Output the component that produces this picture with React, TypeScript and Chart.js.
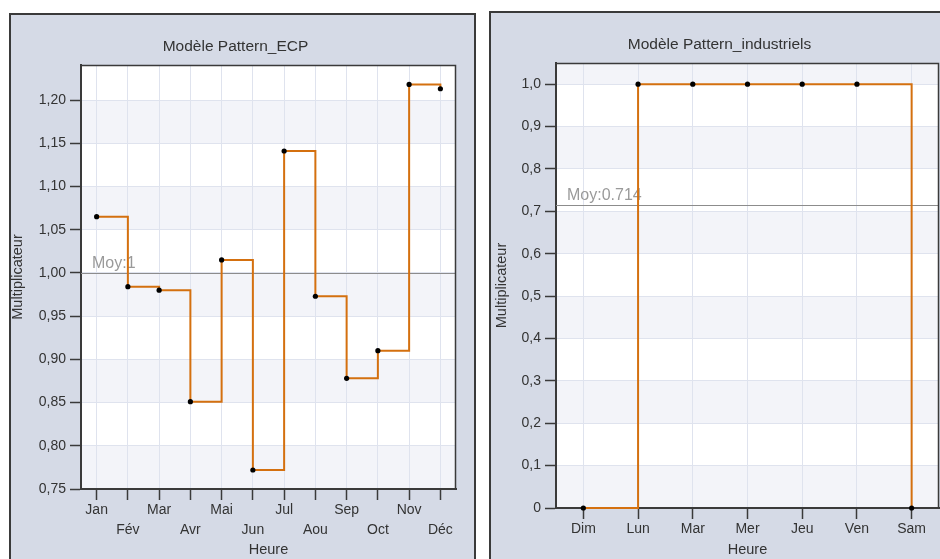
import React, { useEffect, useRef } from 'react';
import { Chart, registerables } from 'chart.js';

Chart.register(...registerables);

// ---------- data ----------
const months = ['Jan', 'Fév', 'Mar', 'Avr', 'Mai', 'Jun', 'Jul', 'Aou', 'Sep', 'Oct', 'Nov', 'Déc'];
const ecpValues = [1.065, 0.984, 0.98, 0.851, 1.015, 0.772, 1.141, 0.973, 0.878, 0.91, 1.218, 1.213];

const days = ['Dim', 'Lun', 'Mar', 'Mer', 'Jeu', 'Ven', 'Sam'];
const industrielsValues = [0, 1, 1, 1, 1, 1, 0];

const ecpTitle = 'Modèle Pattern_ECP';
const industrielsTitle = 'Modèle Pattern_industriels';
const yAxisTitle = 'Multiplicateur';
const xAxisTitle = 'Heure';
const avgPrefix = 'Moy:';

const ecpRange = { min: 0.75, max: 1.2405, step: 0.05, decimals: 2 };
const industrielsRange = { min: 0, max: 1.05, step: 0.1, decimals: 1 };

// ---------- styles ----------
const FONT = '"Liberation Sans", Arial, sans-serif';
const TEXT = '#333333';
const AXIS = '#3a3a3a';
const GRID = '#dfe3ee';
const BAND = '#f3f4f9';
const PANEL_BG = '#d5dae6';
const LINE = '#d4700f';

const bandsPlugin = {
  id: 'bands',
  beforeDraw(chart: any) {
    const { ctx, chartArea: a, scales } = chart;
    const y = scales.y;
    ctx.save();
    ctx.fillStyle = '#ffffff';
    ctx.fillRect(a.left, a.top, a.width, a.height);
    const edges = y.ticks.map((t: any) => t.value).concat([y.max]);
    ctx.fillStyle = BAND;
    for (let i = 0; i < edges.length - 1; i += 2) {
      const y0 = y.getPixelForValue(edges[i]);
      const y1 = y.getPixelForValue(edges[i + 1]);
      ctx.fillRect(a.left, y1, a.width, y0 - y1);
    }
    ctx.restore();
  },
};

const avgPlugin = {
  id: 'avgLine',
  beforeDatasetsDraw(chart: any) {
    const values = chart.data.datasets[0].data as number[];
    const avg = values.reduce((s, v) => s + v, 0) / values.length;
    const { ctx, chartArea: a, scales } = chart;
    const py = Math.round(scales.y.getPixelForValue(avg)) + 0.5;
    ctx.save();
    ctx.strokeStyle = '#8c8c8c';
    ctx.lineWidth = 1;
    ctx.beginPath();
    ctx.moveTo(a.left, py);
    ctx.lineTo(a.right, py);
    ctx.stroke();
    ctx.fillStyle = '#9a9a9a';
    ctx.font = `16px ${FONT}`;
    ctx.textAlign = 'left';
    ctx.textBaseline = 'alphabetic';
    ctx.fillText(avgPrefix + String(Number(avg.toFixed(3))), a.left + 11, py - 6);
    ctx.restore();
  },
};

const framePlugin = {
  id: 'frame',
  afterDraw(chart: any) {
    const { ctx, chartArea: a } = chart;
    ctx.save();
    ctx.strokeStyle = AXIS;
    ctx.lineWidth = 1.5;
    ctx.beginPath();
    ctx.moveTo(a.left, a.top + 0.5);
    ctx.lineTo(a.right - 0.5, a.top + 0.5);
    ctx.lineTo(a.right - 0.5, a.bottom);
    ctx.stroke();
    ctx.restore();
  },
};

type PanelProps = {
  labels: string[];
  values: number[];
  title: string;
  range: { min: number; max: number; step: number; decimals: number };
  twoRows: boolean;
  left: number;
  top: number;
  panelW: number;
  panelH: number;
  canvasW: number;
  canvasH: number;
  yAxisW: number;
  rightW: number;
  xAxisH: number;
  titlePadTop: number;
  titlePadBottom: number;
  yTitlePad: number;
  xTitlePadBottom: number;
};

function Panel(p: PanelProps) {
  const ref = useRef<HTMLCanvasElement | null>(null);

  useEffect(() => {
    if (!ref.current) return;
    const fmt = (v: number) =>
      v === 0 ? '0' : v.toFixed(p.range.decimals).replace('.', ',');
    const chart = new Chart(ref.current, {
      type: 'line',
      data: {
        labels: p.labels,
        datasets: [
          {
            data: p.values,
            stepped: 'before',
            borderColor: LINE,
            borderWidth: 2,
            pointRadius: 2.6,
            pointBorderWidth: 0,
            pointBackgroundColor: '#000000',
            pointBorderColor: '#000000',
            fill: false,
            clip: false as any,
          },
        ],
      },
      options: {
        animation: false,
        responsive: false,
        events: [],
        layout: { padding: 0 },
        plugins: {
          legend: { display: false },
          tooltip: { enabled: false },
          title: {
            display: true,
            text: p.title,
            color: TEXT,
            font: { family: FONT, size: 15.5, weight: 'normal', lineHeight: 1.2 },
            padding: { top: p.titlePadTop, bottom: p.titlePadBottom },
          },
        },
        scales: {
          x: {
            type: 'category',
            offset: true,
            grid: {
              offset: false,
              color: GRID,
              lineWidth: 1,
              drawTicks: true,
              tickLength: 11,
              tickColor: AXIS,
              tickWidth: 1.5,
            },
            border: { display: true, color: AXIS, width: 2 },
            ticks: {
              autoSkip: false,
              maxRotation: 0,
              minRotation: 0,
              padding: 0,
              color: TEXT,
              font: { family: FONT, size: 14, lineHeight: 20 / 14 },
              callback: (val: any, idx: number) => {
                const lab = p.labels[idx];
                return p.twoRows && idx % 2 === 1 ? ['', lab] : lab;
              },
            },
            title: {
              display: true,
              text: xAxisTitle,
              color: TEXT,
              font: { family: FONT, size: 14.5, lineHeight: 1.2 },
              padding: { top: 0, bottom: p.xTitlePadBottom },
            },
            afterFit: (s: any) => {
              s.height = p.xAxisH;
            },
          },
          y: {
            type: 'linear',
            position: 'left',
            min: p.range.min,
            max: p.range.max,
            grid: {
              color: GRID,
              lineWidth: 1,
              drawTicks: true,
              tickLength: 11,
              tickColor: AXIS,
              tickWidth: 1.5,
            },
            border: { display: true, color: AXIS, width: 2 },
            ticks: {
              stepSize: p.range.step,
              includeBounds: false,
              padding: 4,
              color: TEXT,
              font: { family: FONT, size: 14 },
              callback: (v: any) => fmt(Number(v)),
            },
            title: {
              display: true,
              text: yAxisTitle,
              color: TEXT,
              font: { family: FONT, size: 14.5, lineHeight: 1 },
              padding: { top: p.yTitlePad, bottom: 0 },
            },
            afterFit: (s: any) => {
              s.width = p.yAxisW;
            },
          },
          yR: {
            type: 'linear',
            position: 'right',
            display: true,
            grid: { display: false, drawTicks: false },
            border: { display: false },
            ticks: { display: false },
            title: { display: false },
            afterFit: (s: any) => {
              s.width = p.rightW;
            },
          },
        },
      } as any,
      plugins: [bandsPlugin, avgPlugin, framePlugin],
    });
    return () => chart.destroy();
  }, []);

  return (
    <div
      style={{
        position: 'absolute',
        left: p.left,
        top: p.top,
        width: p.panelW,
        height: p.panelH,
        boxSizing: 'border-box',
        border: `2px solid ${AXIS}`,
        background: PANEL_BG,
        overflow: 'hidden',
      }}
    >
      <canvas
        ref={ref}
        width={p.canvasW}
        height={p.canvasH}
        style={{ display: 'block', width: p.canvasW, height: p.canvasH }}
      />
    </div>
  );
}

export default function App() {
  return (
    <div
      style={{
        position: 'fixed',
        left: 0,
        top: 0,
        width: 940,
        height: 559,
        overflow: 'hidden',
        background: '#ffffff',
      }}
    >
      <Panel
        labels={months}
        values={ecpValues}
        title={ecpTitle}
        range={ecpRange}
        twoRows={true}
        left={9}
        top={13}
        panelW={467}
        panelH={570}
        canvasW={449}
        canvasH={556}
        yAxisW={70}
        rightW={4}
        xAxisH={82}
        titlePadTop={22.4}
        titlePadBottom={9}
        yTitlePad={0}
        xTitlePadBottom={11.9}
      />
      <Panel
        labels={days}
        values={industrielsValues}
        title={industrielsTitle}
        range={industrielsRange}
        twoRows={false}
        left={489}
        top={11}
        panelW={480}
        panelH={570}
        canvasW={457}
        canvasH={560}
        yAxisW={65}
        rightW={9}
        xAxisH={65}
        titlePadTop={22}
        titlePadBottom={9.4}
        yTitlePad={3.5}
        xTitlePadBottom={14.3}
      />
    </div>
  );
}
